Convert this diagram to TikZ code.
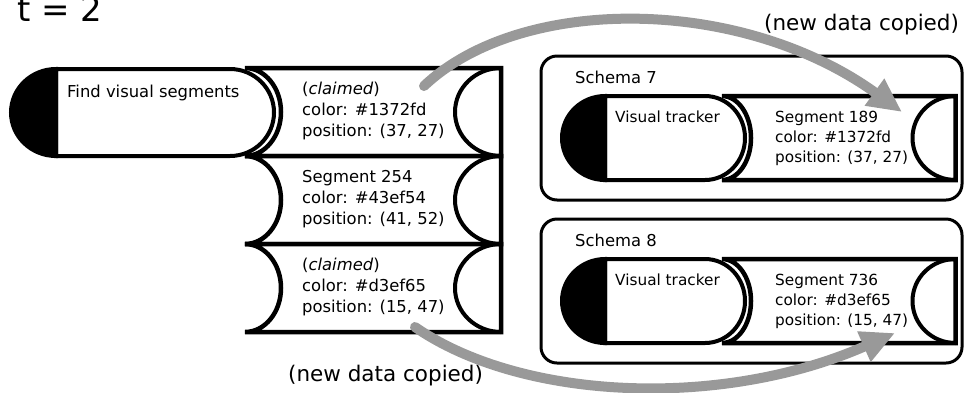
\documentclass[tikz,border=0pt]{standalone}
\usepackage{fontspec}
\setmainfont{DejaVu Sans}
\usetikzlibrary{arrows.meta}

\definecolor{flowgray}{RGB}{153,153,153}

\tikzset{
  pill/.style={draw=black, fill=white, line width=4pt},
  capfill/.style={draw=black, fill=black, line width=4pt},
  slot/.style={draw=black, fill=white, line width=4.5pt, line join=miter},
  slotline/.style={draw=black, line width=4pt},
  schemabox/.style={draw=black, fill=white, line width=3pt, rounded corners=16pt},
  txt/.style={anchor=base west, inner sep=0pt, font=\fontsize{16.4}{21}\selectfont},
  smalltxt/.style={anchor=base west, inner sep=0pt, font=\fontsize{15.3}{20}\selectfont},
  bigtxt/.style={anchor=base west, inner sep=0pt, font=\fontsize{21.5}{26}\selectfont},
  copyarrow/.style={draw=flowgray, line width=10pt, line cap=round,
    -{Triangle[width=31pt,length=34pt]}},
}

% left-aligned block whose baseline is the first line
\newcommand\lines[1]{\begin{tabular}[t]{@{}l@{}}#1\end{tabular}}

% one slot of the segment column: top y, bottom y
\newcommand\segslot[2]{%
  \draw[slot] (245,#1) -- (501,#1) -- (501,#2) -- (245,#2)
    arc[start angle=-90, end angle=90, x radius=36pt, y radius=44pt] -- cycle;
  \draw[slotline] (501,#1)
    arc[start angle=90, end angle=270, x radius=46pt, y radius=44pt];
}

% a schema panel: name suffix, vertical offset, title, segment lines
\newcommand\schemapanel[4]{%
  \begin{scope}[shift={(0,#2)}]
    \draw[schemabox] (541,56) rectangle (962,200);
    \node[txt] (title#1) at (575,83) {#3};
    \draw[slot] (722,96) -- (955.5,96) -- (955.5,180) -- (722,180)
      arc[start angle=-90, end angle=90, x radius=29pt, y radius=42pt] -- cycle;
    \draw[slotline] (955.5,96)
      arc[start angle=90, end angle=270, x radius=43pt, y radius=42pt];
    \draw[pill] (605,96) -- (705,96)
      arc[start angle=90, end angle=-90, x radius=40pt, y radius=42pt] -- (605,180) -- cycle;
    \filldraw[capfill] (605,96)
      arc[start angle=90, end angle=270, x radius=43pt, y radius=42pt] -- cycle;
    \node[smalltxt] (tracker#1) at (615,122) {Visual tracker};
    \node[smalltxt] (seg#1) at (775,122) {\lines{#4}};
  \end{scope}}

\begin{document}
\begin{tikzpicture}[x=1pt, y=-1pt]
  \useasboundingbox (0,0) rectangle (965,392);

  \node[anchor=base west, inner sep=0pt, font=\fontsize{34}{40}\selectfont]
    (tlabel) at (17,21) {t = 2};

  % segment column
  \segslot{68}{156}
  \segslot{156}{244}
  \segslot{244}{332}

  % finder process
  \draw[pill] (56,69) -- (230,69)
    arc[start angle=90, end angle=-90, x radius=44pt, y radius=43.5pt] -- (56,156) -- cycle;
  \filldraw[capfill] (56,69)
    arc[start angle=90, end angle=270, x radius=45pt, y radius=43.5pt] -- cycle;
  \node[txt] (finder) at (67,97) {Find visual segments};

  \node[txt] (slotA) at (302,94)
    {\lines{(\textit{claimed})\\color: \#1372fd\\position: (37, 27)}};
  \node[txt] (slotB) at (302,182)
    {\lines{Segment 254\\color: \#43ef54\\position: (41, 52)}};
  \node[txt] (slotC) at (302,270)
    {\lines{(\textit{claimed})\\color: \#d3ef65\\position: (15, 47)}};

  % schema panels
  \schemapanel{7}{0}{Schema 7}{Segment 189\\color: \#1372fd\\position: (37, 27)}
  \schemapanel{8}{163}{Schema 8}{Segment 736\\color: \#d3ef65\\position: (15, 47)}

  \node[bigtxt] (copyTop) at (764,30) {(new data copied)};
  \node[bigtxt] (copyBottom) at (288,381) {(new data copied)};

  % copy arrows
  \coordinate (srcA) at (424,86);
  \coordinate (dstA) at (902,112);
  \coordinate (srcC) at (415,327);
  \coordinate (dstC) at (895,333);
  \draw[copyarrow] (srcA) .. controls (520,-5) and (740,-5) .. (dstA);
  \draw[copyarrow] (srcC) .. controls (520,400) and (720,410) .. (dstC);
\end{tikzpicture}
\end{document}
